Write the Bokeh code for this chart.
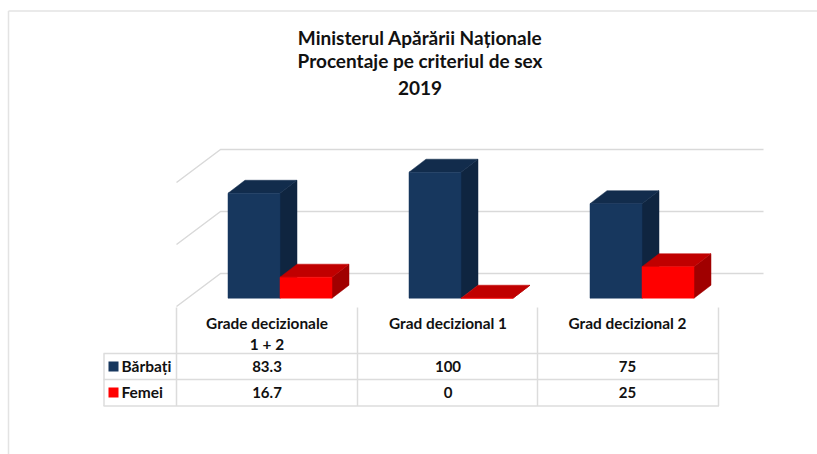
from bokeh.plotting import figure
from bokeh.models import Range1d
from bokeh.core.properties import value
from bokeh.embed import file_html
from bokeh.resources import INLINE

# ---- data
title_lines = ["Ministerul Apărării Naționale", "Procentaje pe criteriul de sex", "2019"]
categories = [["Grade decizionale", "1 + 2"], ["Grad decizional 1"], ["Grad decizional 2"]]
series_names = ["Bărbați", "Femei"]
barbati = [83.3, 100, 75]
femei = [16.7, 0, 25]
barbati_labels = ["83.3", "100", "75"]
femei_labels = ["16.7", "0", "25"]

# ---- layout (target window pixels -> chart units)
W, H = 817, 454
OX, OY = 0, 0
GROUP_PX = 181.0
X0_PX = 279.5     # first group's centre, window px
Y0_PX = 297.7     # value zero, window px
UNIT_PX = 1.26    # px per percent
DX = 17 / GROUP_PX
DV = 13 / UNIT_PX
BW = 52 / GROUP_PX

def X(px):
    return (px - X0_PX) / GROUP_PX

def Y(py):
    return (Y0_PX - py) / UNIT_PX

p = figure(width=W, height=H, output_backend="svg", toolbar_location=None,
           x_range=Range1d(X(OX), X(OX + W)), y_range=Range1d(Y(OY + H), Y(OY)),
           min_border=0, outline_line_color=None, background_fill_color="white")
p.axis.visible = False
p.grid.visible = False

GRID = "#D9D9D9"
FONT = value("Lato")

# outer chart border
p.line([X(8), X(8)], [Y(454), Y(10.5)], line_color="#E3E3E3", line_width=1.5)
p.line([X(8), X(817)], [Y(10.5), Y(10.5)], line_color="#E3E3E3", line_width=1.5)

# title
for txt, py in zip(title_lines, [37, 60, 87]):
    p.text([X(419.5)], [Y(py)], text=[txt], text_font=FONT, text_font_style="bold",
           text_font_size="19px", text_align="center", text_baseline="middle", text_color="#111111")

# back wall gridlines and side-wall lines
for py in [149, 211, 273]:
    p.line([X(176), X(220), X(763)], [Y(py + 33), Y(py), Y(py)], line_color=GRID, line_width=1.5)

def box(x0, v, front, top, side):
    x1 = x0 + BW
    xs = [[x1, x1 + DX, x1 + DX, x1], [x0, x0 + DX, x1 + DX, x1], [x0, x1, x1, x0]]
    ys = [[0, DV, v + DV, v], [v, v + DV, v + DV, v], [0, 0, v, v]]
    p.patches(xs, ys, fill_color=[side, top, front], line_color=[side, top, front], line_width=0.5)

for i, (b, f) in enumerate(zip(barbati, femei)):
    box(i - BW, b, "#17375E", "#122C4C", "#0F2540")
    box(i, f, "#FF0000", "#C00000", "#A00000")

# data table
TL = "#DCDCDC"
for px, top in [(103.5, 353), (176, 307), (357, 307), (537, 307), (718, 307)]:
    p.line([X(px), X(px)], [Y(top), Y(405.5)], line_color=TL, line_width=1.5)
for py in [353, 379, 405.5]:
    p.line([X(103), X(718.5)], [Y(py), Y(py)], line_color=TL, line_width=1.5)

def cell(px, py, txt, align="center", size="15.4px"):
    p.text([X(px)], [Y(py)], text=[txt], text_font=FONT, text_font_style="bold", text_font_size=size,
           text_align=align, text_baseline="middle", text_color="#111111")

for i, cat in enumerate(categories):
    cx = 266.5 + i * GROUP_PX - (i == 2) * 1.5
    for j, line in enumerate(cat):
        cell(cx, 322 + j * 21.5, line)
    cell(cx, 366, barbati_labels[i], size="15px")
    cell(cx, 391.5, femei_labels[i], size="15px")

for name, py, col in zip(series_names, [366, 392], ["#17375E", "#FF0000"]):
    p.quad(left=[X(108)], right=[X(118)], bottom=[Y(py + 5)], top=[Y(py - 5)], fill_color=col, line_color=None)
    cell(121, py - 0.5, name, align="left", size="15.5px")

open("out.html", "w").write(file_html(p, INLINE))
